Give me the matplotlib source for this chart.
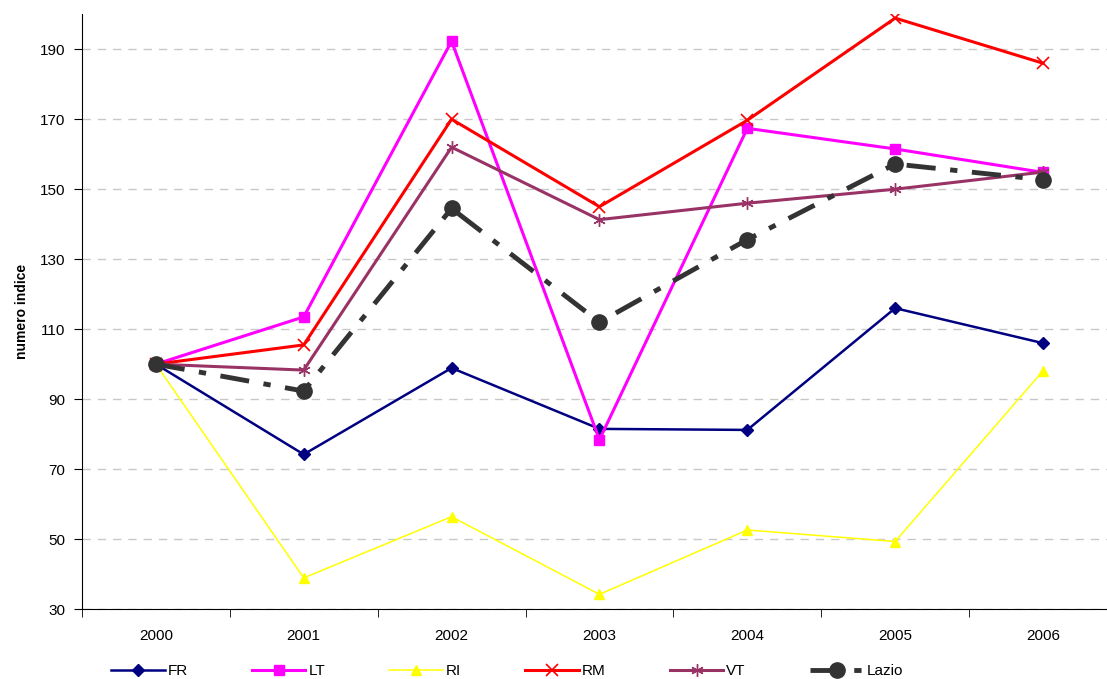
import matplotlib.pyplot as plt

plt.rcParams['font.family'] = ['Liberation Sans', 'DejaVu Sans']

anni = ['2000', '2001', '2002', '2003', '2004', '2005', '2006']
fr = [100, 74.2, 98.9, 81.5, 81.2, 116.0, 106.0]
lt = [100, 113.5, 192.3, 78.4, 167.4, 161.5, 154.8]
ri = [100, 38.9, 56.4, 34.2, 52.6, 49.3, 98.1]
rm = [100, 105.5, 170.0, 145.0, 169.7, 198.9, 186.0]
vt = [100, 98.3, 162.0, 141.3, 146.0, 150.0, 154.9]
lazio = [100, 92.3, 144.5, 112.0, 135.6, 157.2, 152.7]

fig = plt.figure(figsize=(11.07, 6.79), dpi=100)
ax = fig.add_axes([0.074, 0.103, 0.935, 0.876])
x = range(len(anni))

ax.plot(x, fr, color='#000080', lw=1.8, marker='D', ms=6, label='FR')
ax.plot(x, lt, color='#FF00FF', lw=2.2, marker='s', ms=7.5, label='LT')
ax.plot(x, ri, color='#FFFF00', lw=1.1, marker='^', ms=6.5, label='RI')
ax.plot(x, rm, color='#FF0000', lw=2.2, marker='x', ms=8.5, mew=1.2, label='RM')
ax.plot(x, vt, color='#993366', lw=2.2, marker=(6, 2, 0), ms=9, mew=1.0, label='VT')
ax.plot(x, lazio, color='#333333', lw=3.5, marker='o', ms=11,
        linestyle=(0, (6, 3, 1.5, 3)), label='Lazio')

ax.set_xlim(-0.5, 6.5)
ax.set_ylim(30, 200)
ax.set_yticks(range(30, 200, 20))
ax.set_xticks(x)
ax.set_xticklabels(anni)
ax.set_xticks([i - 0.5 for i in range(8)], minor=True)
ax.tick_params(axis='x', which='major', length=0, pad=14, labelsize=11)
ax.tick_params(axis='x', which='minor', length=6, direction='out')
ax.tick_params(axis='y', length=6, direction='out', labelsize=11, pad=6)
ax.yaxis.grid(True, color='#c8c8c8', linestyle=(0, (6, 5)), lw=1)
ax.set_axisbelow(True)
for s in ['top', 'right']:
    ax.spines[s].set_visible(False)
ax.set_ylabel('numero indice', fontsize=10, fontweight='bold', labelpad=8)

fig.legend(loc='center', bbox_to_anchor=(0.458, 0.012), ncol=6, frameon=False,
           handlelength=3.5, columnspacing=4.2, fontsize=11, handletextpad=0.2)

plt.savefig('out.png')
